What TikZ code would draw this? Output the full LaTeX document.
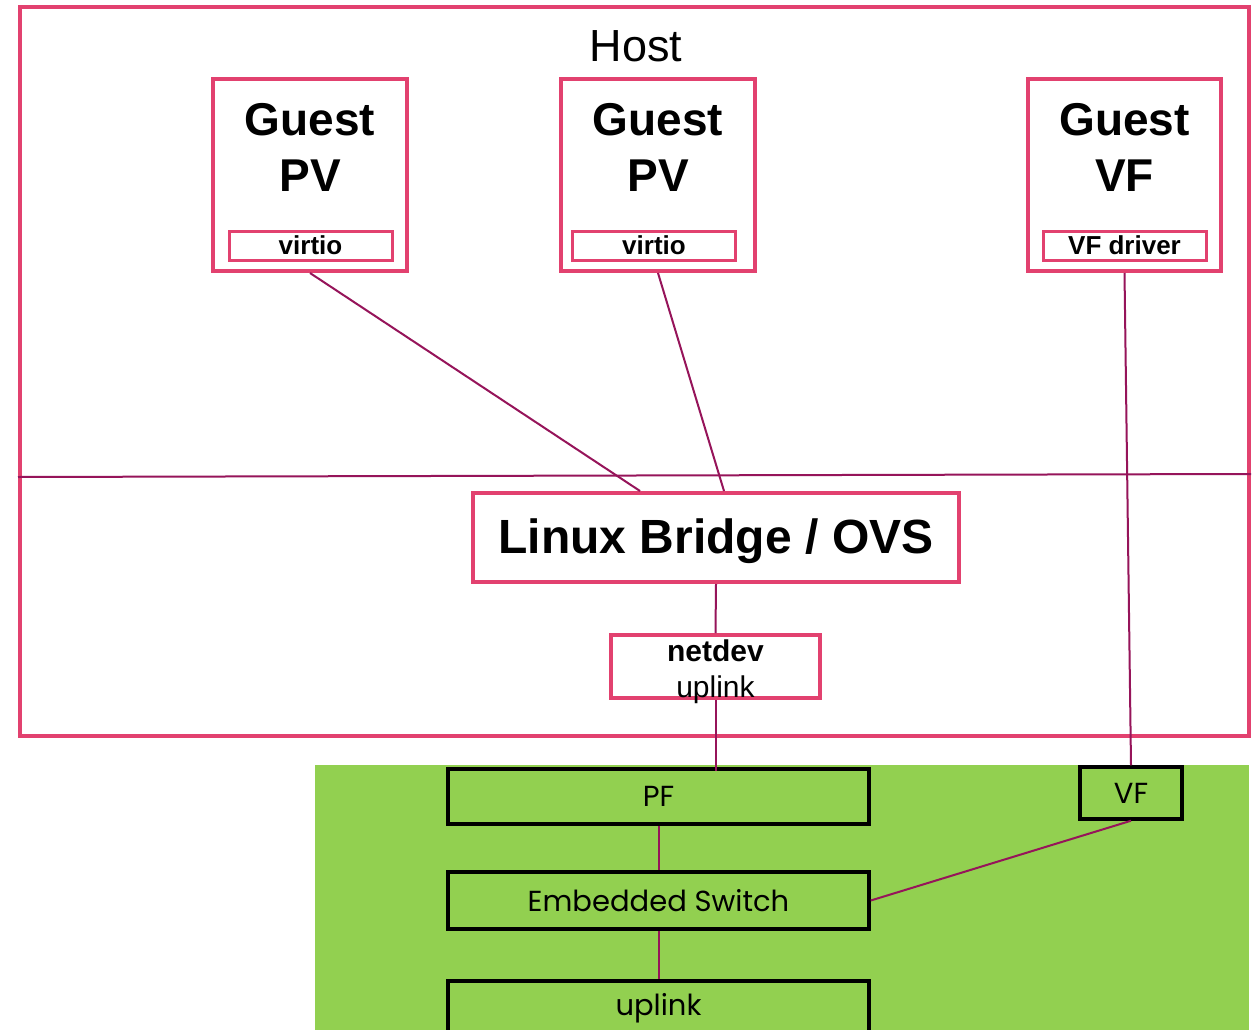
\documentclass[tikz,border=0pt]{standalone}
\usepackage{fontspec}
\setmainfont{Liberation Sans}
\newfontfamily\gothic{Poppins}
\usetikzlibrary{positioning}
\definecolor{HostPink}{HTML}{E2416F}
\definecolor{Wire}{HTML}{96145A}
\definecolor{NicGreen}{HTML}{92D050}

\begin{document}
\begin{tikzpicture}[x=1pt,y=-1pt,
    pinkbox/.style={draw=HostPink,line width=4pt,fill=white,inner sep=0pt},
    drvbox/.style={draw=HostPink,line width=3pt,inner sep=0pt,minimum width=163,minimum height=29,
      font=\fontsize{26}{30}\selectfont\bfseries},
    nicbox/.style={draw=black,line width=3.5pt,inner sep=0pt,font=\gothic\fontsize{29}{32}\selectfont},
    wire/.style={draw=Wire,line width=2pt}]
        \clip (0,0) rectangle (1255,1030);
        \fill[white] (0,0) rectangle (1255,1030);
        \fill[NicGreen] (315,765) rectangle (1249,1030);
        \node[pinkbox,fill=none,minimum width=1229,minimum height=729] (host) at (634.5,371.5) {};
        \node[font=\fontsize{45}{50}\selectfont] (hostlab) at (636,46) {Host};
        \draw[wire] (host.west |- 0,477) -- (host.east |- 0,474);
        \node[pinkbox,minimum width=194,minimum height=192] (g1) at (310,175) {};
        \node[pinkbox,minimum width=194,minimum height=192] (g2) at (658,175) {};
        \node[pinkbox,minimum width=193,minimum height=192] (g3) at (1124.5,175) {};
        \node[font=\fontsize{46}{56}\selectfont\bfseries,align=center] (g1lab) at (310,147) {Guest\\PV};
        \node[font=\fontsize{46}{56}\selectfont\bfseries,align=center] (g2lab) at (658,147) {Guest\\PV};
        \node[font=\fontsize{46}{56}\selectfont\bfseries,align=center] (g3lab) at (1124.5,147) {Guest\\VF};
        \node[drvbox] (virtio1) at (310.5,245.5) {virtio};
        \node[drvbox] (virtio2) at (654,245.5) {virtio};
        \node[drvbox] (vfdrv) at (1124.5,245.5) {VF driver};
        \node[pinkbox,minimum width=486,minimum height=89] (bridge) at (716,537.5) {};
        \node[font=\fontsize{48}{52}\selectfont\bfseries] (bridgelab) at (716,541) {Linux Bridge / OVS};
        \node[pinkbox,minimum width=209,minimum height=63] (netdev) at (715.5,666.5) {};
        \node[font=\fontsize{30}{36}\selectfont,align=center] (netdevlab) at (715.5,672) {\textbf{netdev}\\uplink};
        \node[nicbox,minimum width=421,minimum height=55] (pf) at (658.5,796.5) {PF};
        \node[nicbox,minimum width=102,minimum height=52] (vf) at (1131,793) {VF};
        \node[nicbox,minimum width=421,minimum height=57] (esw) at (658.5,900.5) {Embedded Switch};
        \node[nicbox,minimum width=421,minimum height=58] (up) at (658.5,1010) {};
        \node[font=\gothic\fontsize{29}{32}\selectfont] (uplab) at (658.5,1008) {uplink};
        \draw[wire] (g1.south) -- ([xshift=-76pt]bridge.north);
        \draw[wire] (g2.south) -- ([xshift=8pt]bridge.north);
        \draw[wire] (g3.south) -- (vf.north);
        \draw[wire] (bridge.south) -- (netdev.north);
        \draw[wire] (netdev.south) -- ([yshift=-4pt]netdev.south |- pf.north);
        \draw[wire] (pf.south) -- (esw.north);
        \draw[wire] (esw.south) -- (up.north);
        \draw[wire] (esw.east) -- (vf.south);
      \end{tikzpicture}
\end{document}
